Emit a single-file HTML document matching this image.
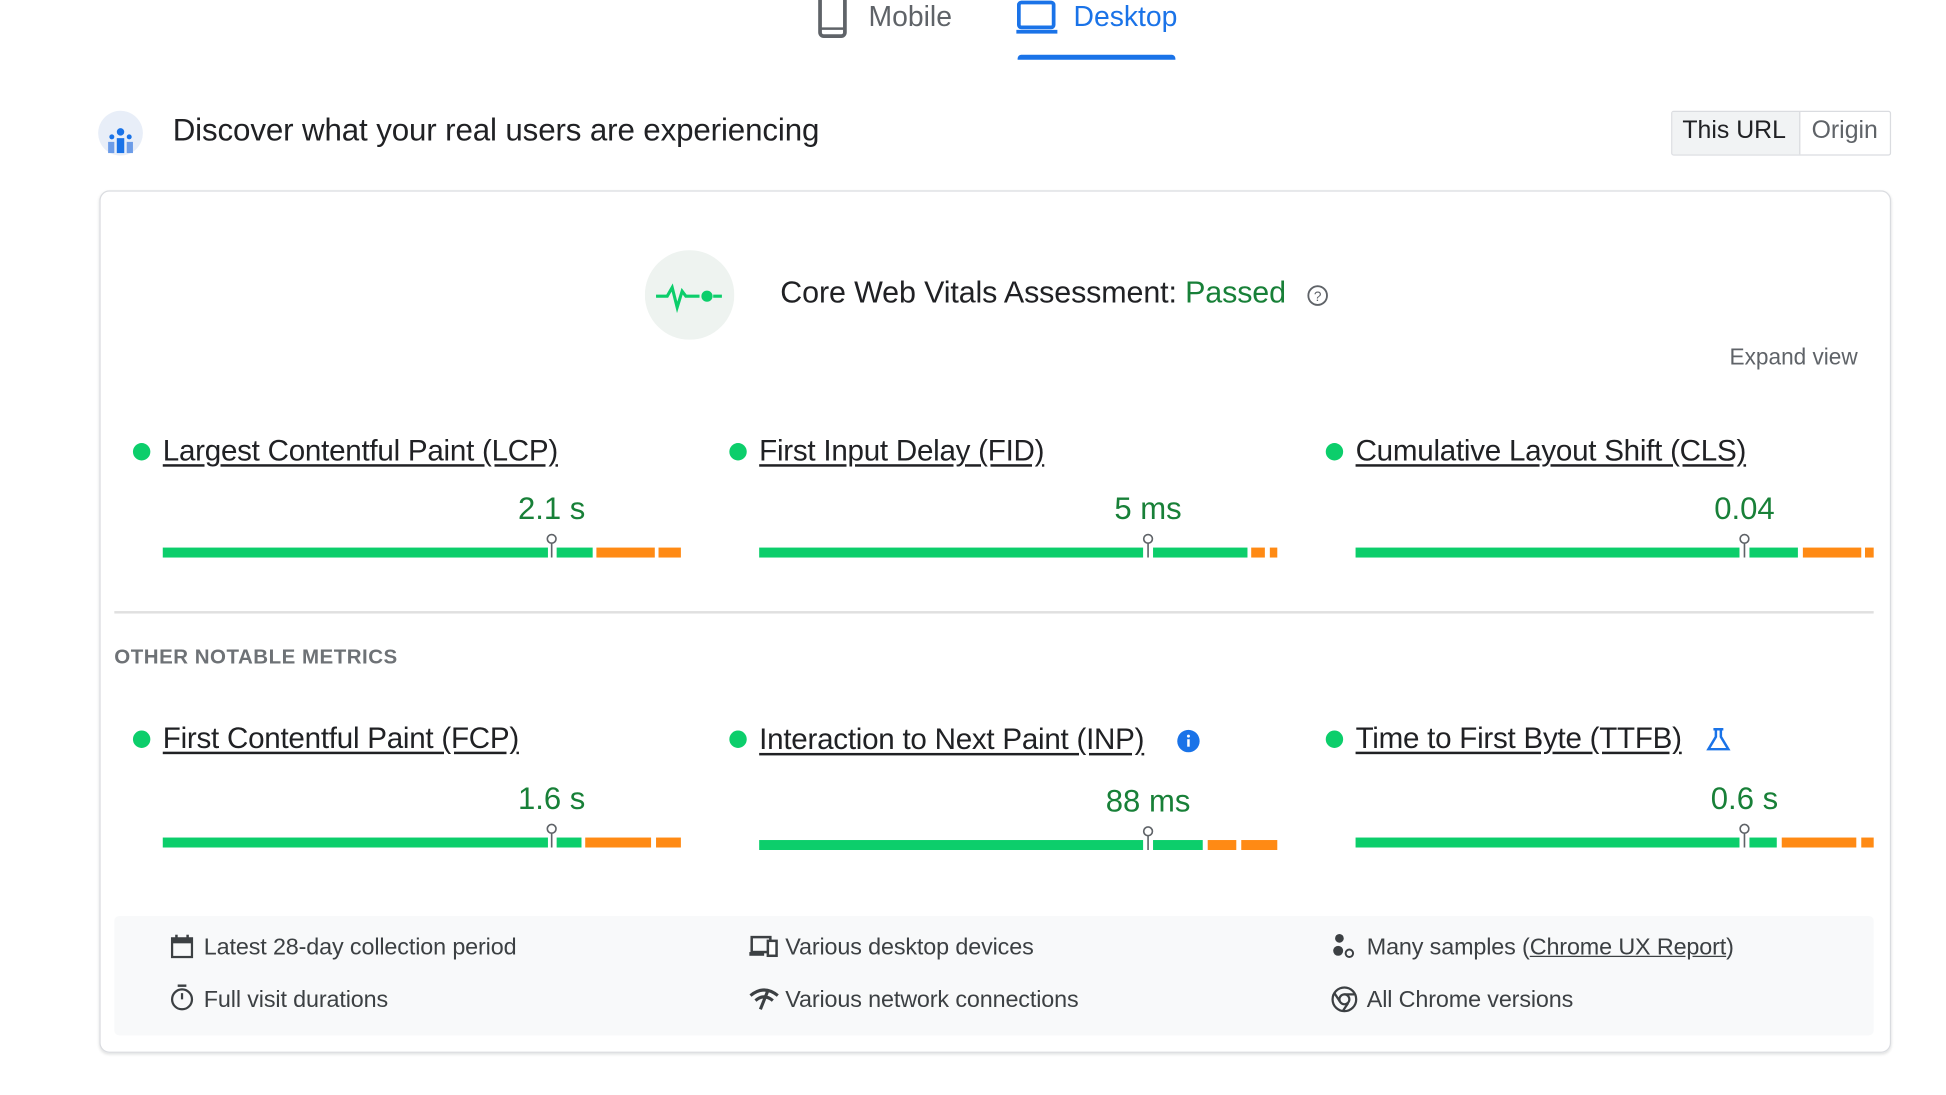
<!DOCTYPE html>
<html><head><meta charset="utf-8"><style>
html,body{margin:0;padding:0;background:#fff;width:1946px;height:1091px;overflow:hidden}
#s{position:absolute;left:0;top:0;width:1570px;height:880px;transform:scale(1.2425,1.2445);transform-origin:0 0;font-family:"Liberation Sans",sans-serif;color:#202124}
.a{position:absolute;white-space:nowrap}
.t{font-size:23.8px;text-decoration:underline;text-underline-offset:3px;color:#202124;line-height:26px;letter-spacing:-0.2px}
.v{font-size:25px;color:#188038;width:200px;text-align:center;line-height:30px}
.dot{position:absolute;width:14px;height:14px;border-radius:50%;background:#0cce6b}
.f{font-size:18.8px;color:#3c4043;line-height:22px;letter-spacing:-0.1px}
.b{position:absolute;height:8px}
.g{background:#0cce6b}.o{background:#ff8a14}
</style></head><body><div id="s">
<svg class="a" style="left:656px;top:0" width="30" height="32"><rect x="4" y="-4" width="20" height="33" rx="3" fill="none" stroke="#5f6368" stroke-width="3"/><line x1="4" y1="23" x2="24" y2="23" stroke="#5f6368" stroke-width="2"/></svg>
<div class="a" style="left:699px;top:0px;font-size:22.8px;color:#5f6368">Mobile</div>
<svg class="a" style="left:816px;top:0" width="38" height="30"><rect x="4" y="2" width="28" height="20" rx="2" fill="none" stroke="#1a73e8" stroke-width="3"/><rect x="2" y="24" width="33" height="3" fill="#1a73e8"/></svg>
<div class="a" style="left:864px;top:0px;font-size:22.8px;color:#1a73e8">Desktop</div>
<div class="a" style="left:819px;top:44px;width:127px;height:4px;background:#1a73e8;border-radius:3px 3px 0 0"></div>
<svg class="a" style="left:78px;top:88px" width="38" height="38"><circle cx="19" cy="19" r="18" fill="#e8eef8"/><circle cx="19" cy="18" r="3" fill="#1a73e8"/><circle cx="12" cy="22" r="2" fill="#1a73e8"/><circle cx="26" cy="22" r="2" fill="#1a73e8"/><rect x="16" y="23" width="6" height="12" fill="#1a73e8"/><rect x="9" y="26" width="5" height="9" fill="#6c9ce8"/><rect x="24" y="26" width="5" height="9" fill="#6c9ce8"/></svg>
<div class="a" style="left:139px;top:91px;font-size:25.2px;color:#202124;letter-spacing:-0.1px">Discover what your real users are experiencing</div>
<div class="a" style="left:1345px;top:89px;width:175px;height:34px;border:1px solid #dadce0;border-radius:2px"></div>
<div class="a" style="left:1346px;top:90px;width:102px;height:34px;background:#f1f3f4;border-right:1px solid #dadce0"></div>
<div class="a" style="left:1354px;top:94px;font-size:20px;color:#202124">This URL</div>
<div class="a" style="left:1458px;top:94px;font-size:20px;color:#5f6368">Origin</div>
<div class="a" style="left:80px;top:153px;width:1440px;height:691px;border:1px solid #dadce0;border-radius:8px;box-shadow:0 1px 2px rgba(60,64,67,.15)"></div>
<svg class="a" style="left:519px;top:201px" width="72" height="72"><circle cx="36" cy="36" r="36" fill="#eef3f0"/><polyline points="9,37 18,37 22,30 26,46 30,33 33,37 44,37" fill="none" stroke="#0cce6b" stroke-width="2.5"/><circle cx="50" cy="37" r="4.5" fill="#0cce6b"/><line x1="55" y1="37" x2="62" y2="37" stroke="#0cce6b" stroke-width="2.5"/></svg>
<div class="a" style="left:628px;top:222px;font-size:24.5px;letter-spacing:-0.1px">Core Web Vitals Assessment: <span style="color:#188038">Passed</span></div>
<svg class="a" style="left:1051px;top:228px" width="19" height="19"><circle cx="9.5" cy="9.5" r="7.5" fill="none" stroke="#5f6368" stroke-width="1.5"/><text x="9.5" y="14" font-size="11" text-anchor="middle" fill="#5f6368" font-family="Liberation Sans">?</text></svg>
<div class="a" style="left:1392px;top:277px;font-size:18.2px;color:#5f6368">Expand view</div>

<div class="dot" style="left:107px;top:356px"></div><div class="a t" style="left:131px;top:350px">Largest Contentful Paint (LCP)</div>
<div class="dot" style="left:587px;top:356px"></div><div class="a t" style="left:611px;top:350px">First Input Delay (FID)</div>
<div class="dot" style="left:1067px;top:356px"></div><div class="a t" style="left:1091px;top:350px">Cumulative Layout Shift (CLS)</div>
<div class="a v" style="left:344px;top:394px">2.1 s</div>
<div class="a v" style="left:824px;top:394px">5 ms</div>
<div class="a v" style="left:1304px;top:394px">0.04</div>
<div class="b g" style="left:131px;top:440px;width:310px"></div><div class="b g" style="left:448px;top:440px;width:29px"></div><div class="b o" style="left:480px;top:440px;width:47px"></div><div class="b o" style="left:530px;top:440px;width:18px"></div>
<div class="b g" style="left:611px;top:440px;width:309px"></div><div class="b g" style="left:928px;top:440px;width:76px"></div><div class="b o" style="left:1007px;top:440px;width:11px"></div><div class="b o" style="left:1022px;top:440px;width:6px"></div>
<div class="b g" style="left:1091px;top:440px;width:309px"></div><div class="b g" style="left:1408px;top:440px;width:39px"></div><div class="b o" style="left:1451px;top:440px;width:47px"></div><div class="b o" style="left:1501px;top:440px;width:7px"></div>
<svg class="a" style="left:439px;top:428px" width="10" height="22"><circle cx="5" cy="5" r="3.5" fill="#fff" stroke="#5f6368" stroke-width="1.3"/><line x1="5" y1="8.5" x2="5" y2="20" stroke="#5f6368" stroke-width="1.3"/></svg>
<svg class="a" style="left:919px;top:428px" width="10" height="22"><circle cx="5" cy="5" r="3.5" fill="#fff" stroke="#5f6368" stroke-width="1.3"/><line x1="5" y1="8.5" x2="5" y2="20" stroke="#5f6368" stroke-width="1.3"/></svg>
<svg class="a" style="left:1399px;top:428px" width="10" height="22"><circle cx="5" cy="5" r="3.5" fill="#fff" stroke="#5f6368" stroke-width="1.3"/><line x1="5" y1="8.5" x2="5" y2="20" stroke="#5f6368" stroke-width="1.3"/></svg>

<div class="a" style="left:92px;top:491px;width:1416px;height:2px;background:#e0e0e0"></div>
<div class="a" style="left:92px;top:519px;font-size:16.5px;color:#5f6368;letter-spacing:.4px;font-weight:bold;opacity:.9">OTHER NOTABLE METRICS</div>

<div class="dot" style="left:107px;top:587px"></div><div class="a t" style="left:131px;top:581px">First Contentful Paint (FCP)</div>
<div class="dot" style="left:587px;top:587px"></div><div class="a t" style="left:611px;top:582px">Interaction to Next Paint (INP)</div>
<svg class="a" style="left:947px;top:586px" width="19" height="19"><circle cx="9.5" cy="9.5" r="9" fill="#1a73e8"/><rect x="8.5" y="8" width="2" height="6" fill="#fff"/><circle cx="9.5" cy="5.5" r="1.2" fill="#fff"/></svg>
<div class="dot" style="left:1067px;top:587px"></div><div class="a t" style="left:1091px;top:581px">Time to First Byte (TTFB)</div>
<svg class="a" style="left:1373px;top:584px" width="20" height="20"><path d="M6 2h8M8 2v6l-6 10h16l-6-10V2" fill="none" stroke="#1a73e8" stroke-width="2"/></svg>
<div class="a v" style="left:344px;top:627px">1.6 s</div>
<div class="a v" style="left:824px;top:629px">88 ms</div>
<div class="a v" style="left:1304px;top:627px">0.6 s</div>
<div class="b g" style="left:131px;top:673px;width:310px"></div><div class="b g" style="left:448px;top:673px;width:20px"></div><div class="b o" style="left:471px;top:673px;width:53px"></div><div class="b o" style="left:528px;top:673px;width:20px"></div>
<div class="b g" style="left:611px;top:675px;width:309px"></div><div class="b g" style="left:928px;top:675px;width:40px"></div><div class="b o" style="left:972px;top:675px;width:23px"></div><div class="b o" style="left:999px;top:675px;width:29px"></div>
<div class="b g" style="left:1091px;top:673px;width:309px"></div><div class="b g" style="left:1408px;top:673px;width:22px"></div><div class="b o" style="left:1434px;top:673px;width:60px"></div><div class="b o" style="left:1498px;top:673px;width:10px"></div>
<svg class="a" style="left:439px;top:661px" width="10" height="22"><circle cx="5" cy="5" r="3.5" fill="#fff" stroke="#5f6368" stroke-width="1.3"/><line x1="5" y1="8.5" x2="5" y2="20" stroke="#5f6368" stroke-width="1.3"/></svg>
<svg class="a" style="left:919px;top:663px" width="10" height="22"><circle cx="5" cy="5" r="3.5" fill="#fff" stroke="#5f6368" stroke-width="1.3"/><line x1="5" y1="8.5" x2="5" y2="20" stroke="#5f6368" stroke-width="1.3"/></svg>
<svg class="a" style="left:1399px;top:661px" width="10" height="22"><circle cx="5" cy="5" r="3.5" fill="#fff" stroke="#5f6368" stroke-width="1.3"/><line x1="5" y1="8.5" x2="5" y2="20" stroke="#5f6368" stroke-width="1.3"/></svg>

<div class="a" style="left:92px;top:736px;width:1416px;height:96px;background:#f8f9fa;border-radius:4px"></div>
<svg class="a" style="left:137px;top:751px" width="19" height="20"><rect x="1.5" y="3" width="16" height="15" fill="none" stroke="#3c4043" stroke-width="1.8"/><rect x="1.5" y="3" width="16" height="4" fill="#3c4043"/><rect x="4" y="0" width="2" height="4" fill="#3c4043"/><rect x="13" y="0" width="2" height="4" fill="#3c4043"/></svg>
<div class="a f" style="left:164px;top:750px">Latest 28-day collection period</div>
<svg class="a" style="left:603px;top:751px" width="24" height="20"><rect x="2" y="2" width="15" height="12" fill="none" stroke="#3c4043" stroke-width="2"/><rect x="0" y="14" width="12" height="3" fill="#3c4043"/><rect x="15" y="5" width="7" height="12" fill="#fff" stroke="#3c4043" stroke-width="2"/></svg>
<div class="a f" style="left:632px;top:750px">Various desktop devices</div>
<svg class="a" style="left:1072px;top:749px" width="20" height="22"><circle cx="6" cy="5" r="3.5" fill="#3c4043"/><circle cx="5" cy="15" r="4" fill="#3c4043"/><circle cx="14" cy="17" r="3" fill="none" stroke="#3c4043" stroke-width="1.6"/></svg>
<div class="a f" style="left:1100px;top:750px">Many samples (<span style="text-decoration:underline">Chrome UX Report</span>)</div>
<svg class="a" style="left:137px;top:791px" width="19" height="22"><rect x="6" y="0" width="7" height="2" fill="#3c4043"/><circle cx="9.5" cy="12" r="8" fill="none" stroke="#3c4043" stroke-width="1.8"/><line x1="9.5" y1="7" x2="9.5" y2="12" stroke="#3c4043" stroke-width="1.8"/></svg>
<div class="a f" style="left:164px;top:792px">Full visit durations</div>
<svg class="a" style="left:603px;top:793px" width="24" height="20"><path d="M1 7 Q12 -2 23 7" fill="none" stroke="#3c4043" stroke-width="2.5"/><path d="M5 11 Q12 5 19 11" fill="none" stroke="#3c4043" stroke-width="2.5"/><line x1="15" y1="3" x2="9" y2="18" stroke="#3c4043" stroke-width="2.5"/></svg>
<div class="a f" style="left:632px;top:792px">Various network connections</div>
<svg class="a" style="left:1071px;top:792px" width="22" height="22"><circle cx="11" cy="11" r="9.5" fill="none" stroke="#3c4043" stroke-width="1.8"/><circle cx="11" cy="11" r="4" fill="none" stroke="#3c4043" stroke-width="1.8"/><line x1="11" y1="7" x2="19" y2="7" stroke="#3c4043" stroke-width="1.8"/><line x1="7.5" y1="13" x2="3" y2="6" stroke="#3c4043" stroke-width="1.8"/><line x1="14" y1="14" x2="10" y2="20" stroke="#3c4043" stroke-width="1.8"/></svg>
<div class="a f" style="left:1100px;top:792px">All Chrome versions</div>
</div></body></html>
